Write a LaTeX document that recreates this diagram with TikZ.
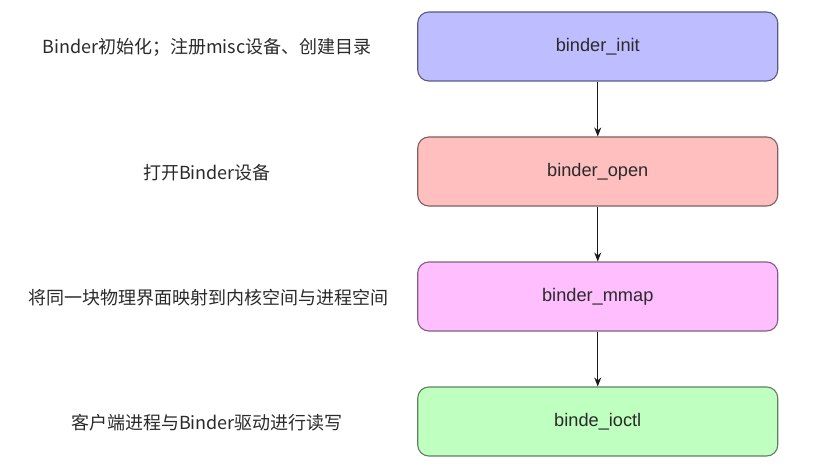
\documentclass[tikz,border=0pt]{standalone}
\usepackage{fontspec}
\setmainfont{Liberation Sans}
\newfontfamily\cjk{Noto Sans CJK SC}
\usetikzlibrary{arrows.meta}
\definecolor{fblue}{HTML}{BDBDFF}
\definecolor{dblue}{HTML}{5C5C80}
\definecolor{fred}{HTML}{FFBFBF}
\definecolor{dred}{HTML}{806060}
\definecolor{fpink}{HTML}{FFBFFF}
\definecolor{dpink}{HTML}{806080}
\definecolor{fgreen}{HTML}{BFFFBF}
\definecolor{dgreen}{HTML}{608060}
\definecolor{txt}{HTML}{2A2A2A}
\begin{document}
\begin{tikzpicture}[x=1pt,y=-1pt,
  stepbox/.style={rounded corners=11pt, line width=1.1pt, minimum width=360pt, minimum height=69pt,
    inner sep=0pt, font=\fontsize{18.2}{20}\selectfont, text=txt},
  lbl/.style={font=\cjk\fontsize{18}{20}\selectfont, text=txt, inner sep=0pt},
  conn/.style={line width=1pt, draw=black!90, -{Stealth[length=9pt,width=7pt]}}]
\useasboundingbox (0,0) rectangle (814,468);
\node[stepbox, fill=fblue, draw=dblue] (b1) at (597.75,46.5) {binder\_init};
\node[stepbox, fill=fred, draw=dred] (b2) at (597.75,171.5) {binder\_open};
\node[stepbox, fill=fpink, draw=dpink] (b3) at (597.75,296.5) {binder\_mmap};
\node[stepbox, fill=fgreen, draw=dgreen] (b4) at (597.75,421.5) {binde\_ioctl};
\draw[conn] (b1) -- (b2);
\draw[conn] (b2) -- (b3);
\draw[conn] (b3) -- (b4);
\node[lbl] (l1) at (207,47) {Binder初始化；注册misc设备、创建目录};
\node[lbl] (l2) at (207,173) {打开Binder设备};
\node[lbl] (l3) at (208,298) {将同一块物理界面映射到内核空间与进程空间};
\node[lbl] (l4) at (207,423) {客户端进程与Binder驱动进行读写};
\end{tikzpicture}
\end{document}
